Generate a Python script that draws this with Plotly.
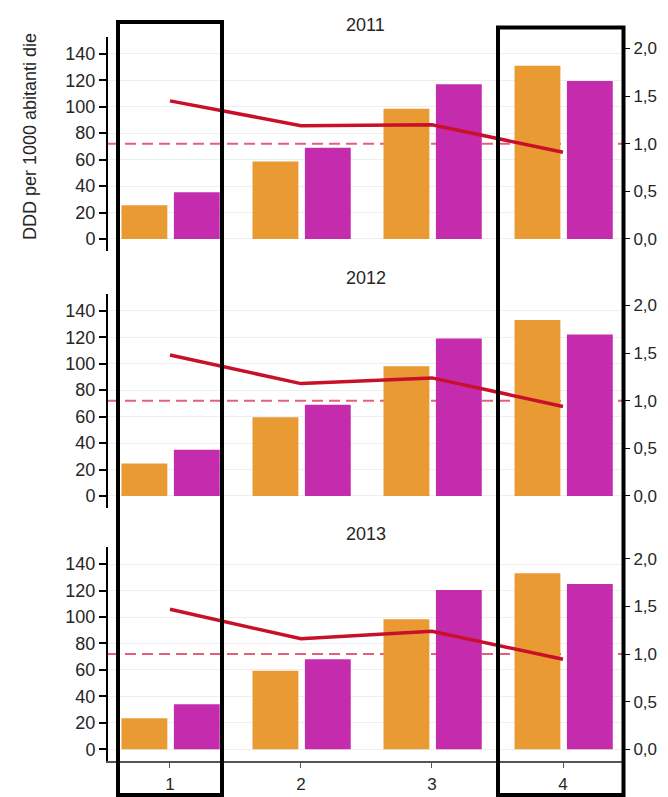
import plotly.graph_objects as go

categories = [1, 2, 3, 4]
years = ["2011", "2012", "2013"]

orange_2011 = [25.6, 58.6, 98.5, 131.0]
magenta_2011 = [35.3, 69.0, 117.0, 119.5]
ratio_2011 = [1.45, 1.19, 1.20, 0.91]

orange_2012 = [24.5, 59.5, 98.0, 133.0]
magenta_2012 = [35.0, 69.0, 119.0, 122.0]
ratio_2012 = [1.48, 1.18, 1.24, 0.94]

orange_2013 = [23.4, 59.4, 98.3, 133.0]
magenta_2013 = [34.0, 68.0, 120.5, 125.0]
ratio_2013 = [1.47, 1.16, 1.24, 0.945]

reference_ratio = 1.0
ratio_scale = 72.0  # right-axis 1.0 corresponds to 72 on the left axis
left_ticks = [0, 20, 40, 60, 80, 100, 120, 140]
right_ticks = [0.0, 0.5, 1.0, 1.5, 2.0]
y_title = "DDD per 1000 abitanti die"

orange_series = [orange_2011, orange_2012, orange_2013]
magenta_series = [magenta_2011, magenta_2012, magenta_2013]
ratio_series = [ratio_2011, ratio_2012, ratio_2013]

# page body has an 8px margin; figure coordinates = page px - OFF
OFF = 8
W, H = 668 - OFF, 797 - OFF
ORANGE = "#E99A33"
MAGENTA = "#C52CAD"
RED = "#C8102A"
DASH = "#E4607A"
TXT = "#262626"
FONT = "Liberation Sans, Arial, sans-serif"


def fx(p):
    return (p - OFF) / W


def fy(p):
    return 1 - (p - OFF) / H


x_left, x_right = 108, 623
panels_px = [(36.6, 250.9), (293.6, 507.9), (546.9, 761.2)]
title_y_px = [25, 278, 534]
y_lo, y_hi = -9, 153

fig = go.Figure()
layout = dict(
    width=W, height=H,
    margin=dict(l=0, r=0, t=0, b=0),
    paper_bgcolor="white", plot_bgcolor="white",
    showlegend=False, barmode="overlay",
    separators=",.",
    font=dict(family=FONT, size=18, color=TXT),
)

shapes = []
annotations = []
for i in range(3):
    n = i + 1
    top, bot = panels_px[i]
    xa = "x" if n == 1 else f"x{n}"
    ya = "y" if n == 1 else f"y{n}"
    yr = f"y{n + 3}"
    last = (n == 3)
    layout["xaxis" if n == 1 else f"xaxis{n}"] = dict(
        domain=[fx(x_left), fx(x_right)], range=[0.527, 4.458],
        anchor=ya, tickvals=categories, ticktext=[str(c) for c in categories],
        showticklabels=last, showline=last, linecolor="#555555", linewidth=2,
        ticks="outside" if last else "", ticklen=5, tickcolor="#555555",
        ticklabelstandoff=1,
        showgrid=False, zeroline=False, fixedrange=True,
        tickfont=dict(size=17, color=TXT),
    )
    layout["yaxis" if n == 1 else f"yaxis{n}"] = dict(
        domain=[fy(bot), fy(top)], range=[y_lo, y_hi], anchor=xa,
        tickvals=left_ticks, showline=True, linecolor="black", linewidth=2,
        ticks="outside", ticklen=7, tickcolor="black", tickwidth=1.5,
        showgrid=True, gridcolor="#eeeeee", zeroline=False,
        tickfont=dict(size=18, color=TXT),
    )
    layout[f"yaxis{n + 3}"] = dict(
        overlaying=ya, side="right", anchor=xa,
        range=[y_lo / ratio_scale, y_hi / ratio_scale],
        tickvals=right_ticks, tickformat=".1f", showline=True, linecolor="black",
        linewidth=2, ticks="outside", ticklen=5, tickcolor="black",
        showgrid=False, zeroline=False,
        tickfont=dict(size=17, color=TXT),
    )
    fig.add_trace(go.Bar(x=categories, y=orange_series[i], xaxis=xa, yaxis=ya,
                         width=0.35, offset=-0.37, marker_color=ORANGE,
                         marker_line_width=0))
    fig.add_trace(go.Bar(x=categories, y=magenta_series[i], xaxis=xa, yaxis=ya,
                         width=0.35, offset=0.03, marker_color=MAGENTA,
                         marker_line_width=0))
    fig.add_trace(go.Scatter(x=categories, y=ratio_series[i], xaxis=xa, yaxis=yr,
                             mode="lines", line=dict(color=RED, width=3.5)))
    shapes.append(dict(type="line", xref=f"{xa} domain", x0=0, x1=1,
                       yref=ya, y0=reference_ratio * ratio_scale,
                       y1=reference_ratio * ratio_scale,
                       line=dict(color=DASH, width=2, dash="11px,6px"), layer="below"))
    annotations.append(dict(text=years[i], xref="paper", yref="paper",
                            x=(fx(x_left) + fx(x_right)) / 2, y=fy(title_y_px[i]),
                            showarrow=False, xanchor="center", yanchor="middle",
                            font=dict(size=18, color=TXT)))

annotations.append(dict(text=y_title, xref="paper", yref="paper", x=fx(30),
                        y=fy(137), textangle=-90, showarrow=False,
                        xanchor="center", yanchor="middle",
                        font=dict(size=18, color=TXT)))

# highlight boxes
for (x0, x1, y0, y1) in [(118, 222, 22, 795), (498, 623.5, 27.5, 795)]:
    shapes.append(dict(type="rect", xref="paper", yref="paper",
                       x0=fx(x0), x1=fx(x1), y0=fy(y1), y1=fy(y0),
                       line=dict(color="black", width=4), fillcolor="rgba(0,0,0,0)",
                       layer="above"))

layout["shapes"] = shapes
layout["annotations"] = annotations
fig.update_layout(**layout)
fig.write_html("out.html")
